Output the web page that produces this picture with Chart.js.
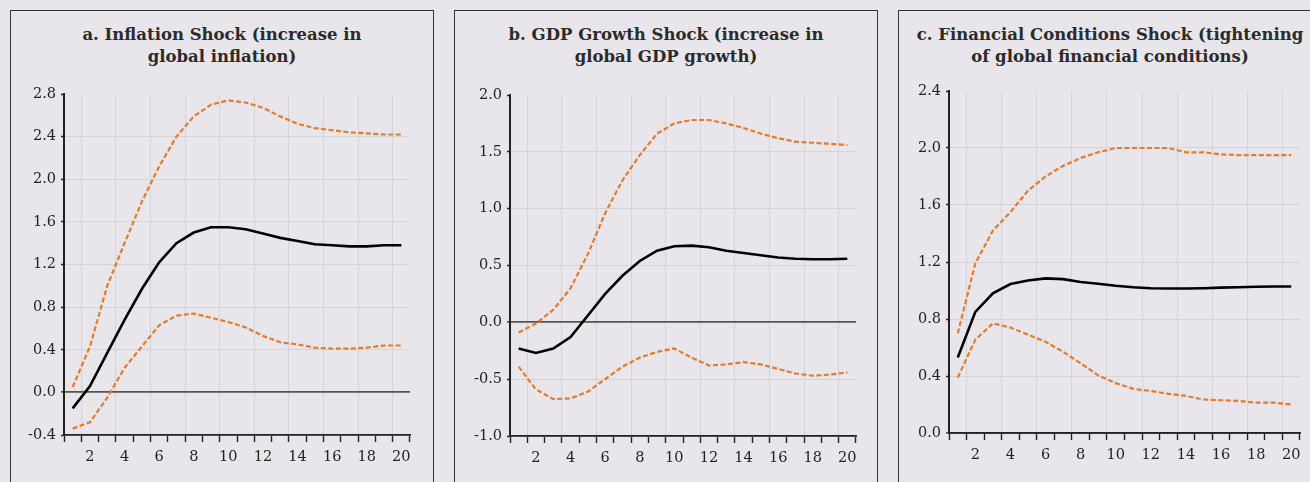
<!DOCTYPE html>
<html>
<head>
<meta charset="utf-8">
<script src="https://cdn.jsdelivr.net/npm/chart.js@4.4.1/dist/chart.umd.min.js"></script>
<style>
  html, body { margin: 0; padding: 0; background: #e8e6eb; overflow: hidden; width: 1310px; height: 482px; }
  .panel { position: absolute; top: 10px; width: 424px; height: 500px; border: 1px solid #333; box-sizing: border-box; }
  .title { position: absolute; left: 0; right: 0; top: 13px; text-align: center; white-space: nowrap;
           font: bold 16.5px "DejaVu Serif", serif; line-height: 22px; color: #2b2b2b; }
  .plot { position: absolute; left: 0; top: 49px; width: 422px; height: 422px; }
</style>
</head>
<body>
<div class="panel" style="left:10px">
  <div class="title">a. Inflation Shock (increase in<br>global inflation)</div>
  <div class="plot"><canvas id="chartA"></canvas></div>
</div>
<div class="panel" style="left:454px">
  <div class="title">b. GDP Growth Shock (increase in<br>global GDP growth)</div>
  <div class="plot"><canvas id="chartB"></canvas></div>
</div>
<div class="panel" style="left:898px">
  <div class="title">c. Financial Conditions Shock (tightening<br>of global financial conditions)</div>
  <div class="plot"><canvas id="chartC"></canvas></div>
</div>
<script>
// Horizon (periods after the shock)
const periods = ['1','2','3','4','5','6','7','8','9','10','11','12','13','14','15','16','17','18','19','20'];

// a. Inflation shock: median response and confidence bands
const inflMedian = [-0.15, 0.06, 0.37, 0.68, 0.97, 1.22, 1.40, 1.50, 1.55, 1.55, 1.53, 1.49, 1.45, 1.42, 1.39, 1.38, 1.37, 1.37, 1.38, 1.38];
const inflUpper  = [0.05, 0.43, 1.00, 1.40, 1.79, 2.12, 2.40, 2.59, 2.70, 2.74, 2.72, 2.67, 2.59, 2.52, 2.48, 2.46, 2.44, 2.43, 2.42, 2.42];
const inflLower  = [-0.34, -0.28, -0.05, 0.23, 0.43, 0.63, 0.72, 0.74, 0.70, 0.66, 0.61, 0.53, 0.47, 0.45, 0.42, 0.41, 0.41, 0.42, 0.44, 0.44];
const inflTicks  = [-0.4, 0.0, 0.4, 0.8, 1.2, 1.6, 2.0, 2.4, 2.8];

// b. GDP growth shock
const gdpMedian = [-0.23, -0.27, -0.23, -0.13, 0.06, 0.25, 0.41, 0.54, 0.63, 0.67, 0.675, 0.66, 0.63, 0.61, 0.59, 0.57, 0.56, 0.555, 0.555, 0.56];
const gdpUpper  = [-0.09, -0.01, 0.11, 0.30, 0.60, 0.96, 1.25, 1.47, 1.66, 1.75, 1.78, 1.78, 1.75, 1.71, 1.66, 1.62, 1.59, 1.58, 1.57, 1.56];
const gdpLower  = [-0.39, -0.59, -0.675, -0.67, -0.61, -0.50, -0.39, -0.31, -0.26, -0.23, -0.31, -0.38, -0.37, -0.35, -0.37, -0.41, -0.45, -0.47, -0.46, -0.44];
const gdpTicks  = [-1.0, -0.5, 0.0, 0.5, 1.0, 1.5, 2.0];

// c. Financial conditions shock
const finMedian = [0.53, 0.85, 0.98, 1.045, 1.07, 1.085, 1.08, 1.06, 1.047, 1.033, 1.023, 1.016, 1.014, 1.014, 1.016, 1.02, 1.023, 1.026, 1.028, 1.028];
const finUpper  = [0.70, 1.19, 1.42, 1.55, 1.70, 1.80, 1.875, 1.93, 1.97, 2.00, 2.00, 2.00, 2.00, 1.97, 1.97, 1.955, 1.95, 1.95, 1.95, 1.95];
const finLower  = [0.39, 0.655, 0.77, 0.74, 0.69, 0.64, 0.57, 0.49, 0.405, 0.35, 0.31, 0.295, 0.275, 0.26, 0.235, 0.23, 0.225, 0.213, 0.213, 0.20];
const finTicks  = [0.0, 0.4, 0.8, 1.2, 1.6, 2.0, 2.4];

const INK = '#222222';
const GRID = '#d4d3d7';
const ORANGE = '#e47b2a';
const FONT = { family: '"DejaVu Serif", serif', size: 14.5 };

function band(data) {
  return { data, borderColor: ORANGE, borderWidth: 2.2, borderDash: [5, 2.5], pointRadius: 0, tension: 0, fill: false };
}

function responseChart(id, median, upper, lower, yTicks, box) {
  const yMin = yTicks[0], yMax = yTicks[yTicks.length - 1];
  return new Chart(document.getElementById(id), {
    type: 'line',
    data: {
      labels: periods,
      datasets: [
        band(upper),
        band(lower),
        { data: median, borderColor: '#000', borderWidth: 2.6, pointRadius: 0, tension: 0, fill: false }
      ]
    },
    options: {
      responsive: true,
      maintainAspectRatio: false,
      animation: false,
      events: [],
      layout: { padding: { top: box.top, right: box.right, left: 0, bottom: 0 } },
      plugins: { legend: { display: false }, tooltip: { enabled: false }, title: { display: false } },
      scales: {
        x: {
          type: 'category',
          offset: true,
          afterFit: s => { s.height = box.xHeight; },
          grid: {
            offset: true,
            drawTicks: true,
            tickLength: 7,
            tickWidth: 1.4,
            tickColor: INK,
            lineWidth: 1,
            color: c => (c.index !== undefined && c.index % 2 === 1) ? GRID : 'rgba(0,0,0,0)'
          },
          border: { display: true, color: INK, width: 1.8 },
          ticks: {
            autoSkip: false,
            maxRotation: 0,
            padding: 7,
            color: INK,
            font: FONT,
            callback: function (v, i) { return (i % 2 === 1) ? this.getLabelForValue(v) : ''; }
          }
        },
        y: {
          min: yMin,
          max: yMax,
          afterFit: s => { s.width = box.yWidth; },
          afterBuildTicks: s => { s.ticks = yTicks.map(v => ({ value: v })); },
          grid: {
            drawTicks: true,
            tickLength: 3,
            tickWidth: 1.4,
            tickColor: INK,
            lineWidth: c => (c.tick && c.tick.value === 0) ? 1.8 : 1,
            color: c => {
              if (!c.tick) return 'rgba(0,0,0,0)';
              if (c.tick.value === yMax) return 'rgba(0,0,0,0)';
              if (c.tick.value === 0) return '#555555';
              return GRID;
            }
          },
          border: { display: true, color: INK, width: 2 },
          ticks: {
            padding: 5,
            color: INK,
            font: FONT,
            callback: v => v.toFixed(1)
          }
        }
      }
    }
  });
}

responseChart('chartA', inflMedian, inflUpper, inflLower, inflTicks, { top: 34, right: 23, yWidth: 53, xHeight: 47 });
responseChart('chartB', gdpMedian, gdpUpper, gdpLower, gdpTicks, { top: 35, right: 21, yWidth: 55, xHeight: 46 });
responseChart('chartC', finMedian, finUpper, finLower, finTicks, { top: 31, right: 21, yWidth: 50, xHeight: 49 });
</script>
</body>
</html>
